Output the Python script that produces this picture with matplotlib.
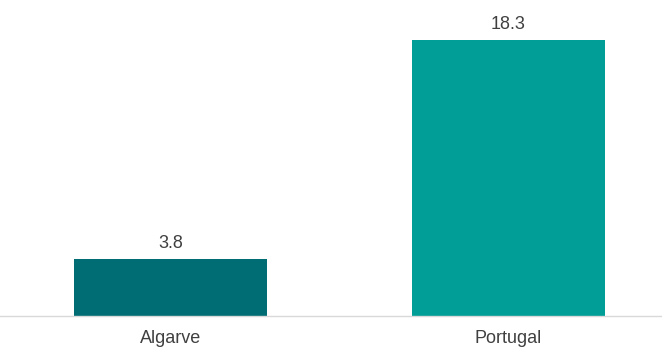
import matplotlib.pyplot as plt

regions = ['Algarve', 'Portugal']
values = [3.8, 18.3]
colors = ['#006d75', '#009e96']

plt.rcParams['font.family'] = ['Liberation Sans', 'DejaVu Sans']

fig = plt.figure(figsize=(6.62, 3.48), dpi=100)
ax = fig.add_axes([0, 32 / 348, 1, 316 / 348])

x = range(len(regions))
bars = ax.bar(x, values, width=0.571, color=colors)
for b, v in zip(bars, values):
    ax.annotate(f'{v:.1f}', (b.get_x() + b.get_width() / 2, v),
                xytext=(0, 5), textcoords='offset points',
                ha='center', va='bottom', fontsize=13, color='#404040')

ax.set_xlim(-0.5044, 1.454)
ax.set_ylim(0, 20.95)
ax.set_xticks(list(x))
ax.set_xticklabels(regions, fontsize=13, color='#404040')
ax.tick_params(axis='x', length=0, pad=10)
ax.set_yticks([])
for s in ['top', 'left', 'right']:
    ax.spines[s].set_visible(False)
ax.spines['bottom'].set_color('#d9d9d9')
ax.spines['bottom'].set_linewidth(1)

fig.savefig('out.png', dpi=100)
